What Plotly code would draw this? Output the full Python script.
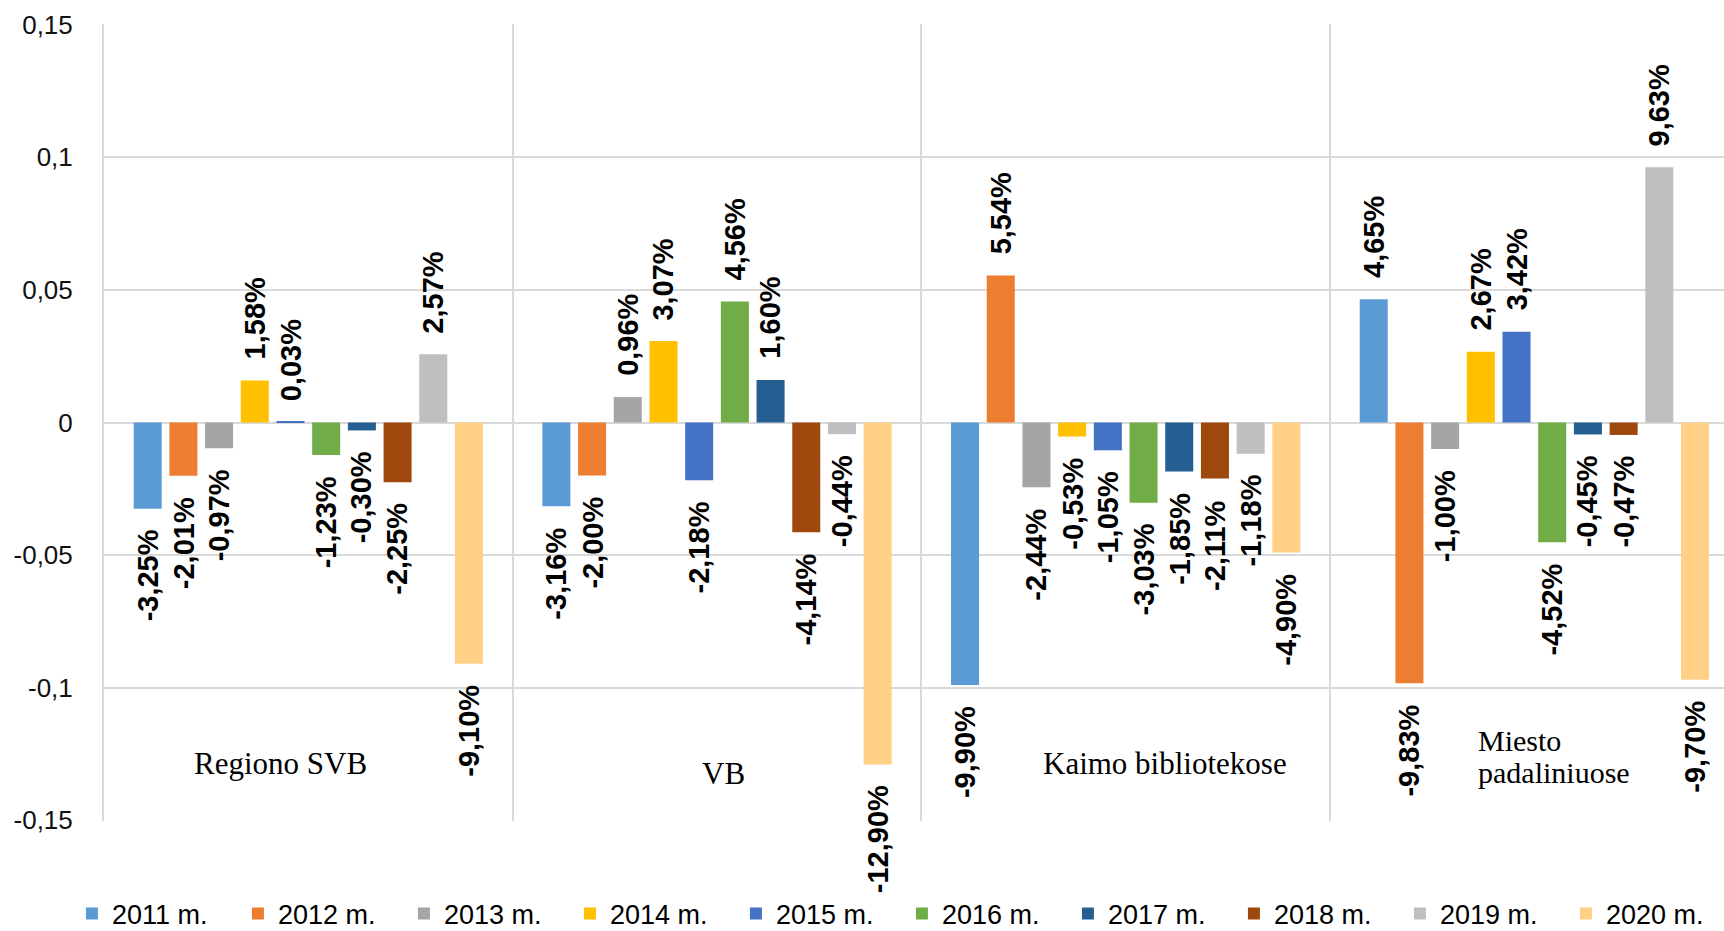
import plotly.graph_objects as go

categories = ["Regiono SVB", "VB", "Kaimo bibliotekose", "Miesto padaliniuose"]
series_names = ["2011 m.", "2012 m.", "2013 m.", "2014 m.", "2015 m.",
                "2016 m.", "2017 m.", "2018 m.", "2019 m.", "2020 m."]
# values in percent, per series (year) across the four categories
v2011 = [-3.25, -3.16, -9.90, 4.65]
v2012 = [-2.01, -2.00, 5.54, -9.83]
v2013 = [-0.97, 0.96, -2.44, -1.00]
v2014 = [1.58, 3.07, -0.53, 2.67]
v2015 = [0.03, -2.18, -1.05, 3.42]
v2016 = [-1.23, 4.56, -3.03, -4.52]
v2017 = [-0.30, 1.60, -1.85, -0.45]
v2018 = [-2.25, -4.14, -2.11, -0.47]
v2019 = [2.57, -0.44, -1.18, 9.63]
v2020 = [-9.10, -12.90, -4.90, -9.70]
series_values = [v2011, v2012, v2013, v2014, v2015, v2016, v2017, v2018, v2019, v2020]

colors = ["#5B9BD5", "#ED7D31", "#A5A5A5", "#FFC000", "#4472C4",
          "#70AD47", "#255E91", "#9E480E", "#BFBFBF", "#FFD086"]

ytick_vals = [0.15, 0.1, 0.05, 0, -0.05, -0.1, -0.15]
ytick_text = ["0,15", "0,1", "0,05", "0", "-0,05", "-0,1", "-0,15"]

BARGAP = 0.1265
GROUPGAP = 0.215
GRID = "#D9D9D9"

fig = go.Figure()
for name, vals, col in zip(series_names, series_values, colors):
    fig.add_trace(go.Bar(
        name=name, x=categories, y=[v / 100 for v in vals],
        marker=dict(color=col, line=dict(width=0)),
    ))

annotations = []
n = len(series_names)
slot = (1 - BARGAP) / n
for i, vals in enumerate(series_values):
    off = -(1 - BARGAP) / 2 + (i + 0.5) * slot
    for j, v in enumerate(vals):
        txt = f"{v:.2f}".replace(".", ",") + "%"
        pos = v >= 0
        annotations.append(dict(
            x=j + off, y=v / 100, xref="x", yref="y", text=txt,
            showarrow=False, textangle=-90,
            xanchor="center", yanchor="bottom" if pos else "top",
            yshift=19 if pos else -19,
            font=dict(family="Liberation Sans, Arial, sans-serif", size=29,
                      color="#000000", weight="bold"),
        ))

serif = "Liberation Serif, Times New Roman, serif"
cat_labels = [
    ("Regiono SVB", -0.067, -0.1286, "center", 31),
    ("VB", 1.017, -0.1325, "center", 31),
    ("Kaimo bibliotekose", 2.095, -0.1286, "center", 31),
    ("Miesto", 2.857, -0.1200, "left", 30),
    ("padaliniuose", 2.857, -0.1320, "left", 30),
]
for t, x, y, xa, fs in cat_labels:
    annotations.append(dict(
        x=x, y=y, xref="x", yref="y", text=t, showarrow=False,
        xanchor=xa, yanchor="middle",
        font=dict(family=serif, size=fs, color="#000000"),
    ))

fig.update_layout(
    width=1724, height=931,
    margin=dict(l=104, r=0, t=24, b=110, autoexpand=False),
    paper_bgcolor="white", plot_bgcolor="white",
    barmode="group", bargap=BARGAP, bargroupgap=GROUPGAP,
    showlegend=True,
    legend=dict(
        orientation="h", x=-0.0198, xanchor="left", y=-0.1167, yanchor="middle",
        font=dict(family="Liberation Sans, Arial, sans-serif", size=27, color="#000000"),
        entrywidth=121, entrywidthmode="pixels",
        itemclick=False, traceorder="normal",
    ),
    annotations=annotations,
    xaxis=dict(
        type="category", range=[-0.5, 3.464], tickson="boundaries",
        showgrid=True, gridcolor=GRID, gridwidth=2,
        showticklabels=False, ticks="", zeroline=False, showline=False,
    ),
    yaxis=dict(
        range=[-0.1503, 0.1503], tickvals=ytick_vals, ticktext=ytick_text,
        showgrid=True, gridcolor=GRID, gridwidth=2,
        zeroline=True, zerolinecolor=GRID, zerolinewidth=2,
        showline=True, linecolor=GRID, linewidth=2,
        ticks="", ticklabelstandoff=24,
        tickfont=dict(family="Liberation Sans, Arial, sans-serif", size=26, color="#111111"),
    ),
)

fig.write_html("out.html", config={"displayModeBar": False},
               post_script="document.body.style.margin='0';document.body.style.overflow='hidden';")
